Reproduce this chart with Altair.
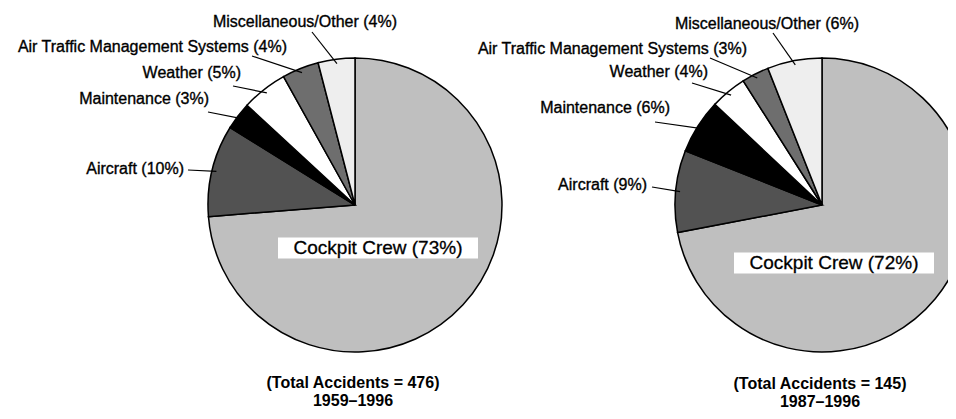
import altair as alt
import numpy as np
import pandas as pd

# ---------------- data ----------------
causes = ["Cockpit Crew", "Aircraft", "Maintenance", "Weather",
          "Air Traffic Management Systems", "Miscellaneous/Other"]
pct_1959_1996 = [73, 10, 3, 5, 4, 4]
pct_1987_1996 = [72, 9, 6, 4, 3, 6]
periods = ["1959–1996", "1987–1996"]
total_accidents = [476, 145]

# ---------------- styles / layout ----------------
fill_colors = ["#bfbfbf", "#525252", "#000000", "#ffffff", "#6e6e6e", "#eeeeee"]
FONT = "Liberation Sans"
W, H = 940, 403          # chart size (page minus 8px margins)
M = 8                    # page margin, layout below is in page pixels
R = 147                  # pie radius
centers = [(355, 205), (822, 205)]
# label right-edge x / centre y for Aircraft, Maintenance, Weather, ATM, Misc
label_pos = [
    [(184, 169), (209, 99), (241, 73), (287, 47), (397, 22)],
    [(647, 185), (670, 108), (708, 72), (747, 49), (859, 24)],
]
# outer end of each leader line (next to its label)
leader_out = [
    [(188, 170), (208, 112), (233, 86), (252, 56), (312, 32)],
    [(652, 187), (655, 122), (692, 83), (710, 58), (773, 33)],
]
cockpit_pos = [(378, 248), (834, 263)]
cockpit_box = (100, 10.5)   # half width, half height
caption_pos = [(353, 383, 401), (820, 384, 402)]

# ---------------- tables ----------------
rows = []
lead_rows = []
for p, (period, vals) in enumerate(zip(periods, [pct_1959_1996, pct_1987_1996])):
    vals = np.array(vals, dtype=float)
    frac = vals / vals.sum()
    start = np.concatenate([[0], np.cumsum(frac)[:-1]])
    mid = (start + frac / 2) * 2 * np.pi
    cx, cy = centers[p]
    for i, c in enumerate(causes):
        rows.append({"period": period, "cause": c, "value": vals[i], "idx": i,
                     "label": f"{c} ({int(vals[i])}%)"})
        if i == 0:
            continue
        lx, ly = label_pos[p][i - 1]
        ox, oy = leader_out[p][i - 1]
        rf = 0.97 * R
        lead_rows.append({
            "period": period,
            "label": f"{c} ({int(vals[i])}%)",
            "tx": lx - M, "ty": ly - M,
            "x1": ox - M, "y1": oy - M,
            "x2": cx + rf * np.sin(mid[i]) - M,
            "y2": cy - rf * np.cos(mid[i]) - M,
        })
pie_df = pd.DataFrame(rows)
lead_df = pd.DataFrame(lead_rows)

ck_rows = []
cap_rows = []
for p, period in enumerate(periods):
    vals = [pct_1959_1996, pct_1987_1996][p]
    x, y = cockpit_pos[p]
    ck_rows.append({"label": f"{causes[0]} ({vals[0]}%)", "x": x - M, "y": y - M,
                    "bx1": x - cockpit_box[0] - M, "bx2": x + cockpit_box[0] - M,
                    "by1": y - cockpit_box[1] - M, "by2": y + cockpit_box[1] - M})
    cx, y1, y2 = caption_pos[p]
    cap_rows.append({"text": f"(Total Accidents = {total_accidents[p]})", "x": cx - M, "y": y1 - M})
    cap_rows.append({"text": period, "x": cx - M, "y": y2 - M})
ck_df = pd.DataFrame(ck_rows)
cap_df = pd.DataFrame(cap_rows)

xs = alt.Scale(domain=[0, W], nice=False, zero=False)
ys = alt.Scale(domain=[0, H], nice=False, zero=False, reverse=True)

def X(f):
    return alt.X(f, type="quantitative", scale=xs, axis=None)

def Y(f):
    return alt.Y(f, type="quantitative", scale=ys, axis=None)

layers = []
for p, period in enumerate(periods):
    cx, cy = centers[p]
    layers.append(
        alt.Chart(pie_df).transform_filter(alt.datum.period == period)
        .mark_arc(outerRadius=R, stroke="black", strokeWidth=1.5)
        .encode(
            theta=alt.Theta("value:Q", stack="normalize"),
            order=alt.Order("idx:Q"),
            color=alt.Color("cause:N", scale=alt.Scale(domain=causes, range=fill_colors), legend=None),
            x=alt.value(cx - M),
            y=alt.value(cy - M),
        )
    )

leaders = alt.Chart(lead_df).mark_rule(color="black", strokeWidth=1.2).encode(
    x=X("x1"), y=Y("y1"), x2="x2:Q", y2="y2:Q")
labels = alt.Chart(lead_df).mark_text(align="right", baseline="middle", font=FONT,
                                      fontSize=16, color="black",
                                      stroke="black", strokeWidth=0.35).encode(
    x=X("tx"), y=Y("ty"), text="label:N")
boxes = alt.Chart(ck_df).mark_rect(color="white").encode(
    x=X("bx1"), x2="bx2:Q", y=Y("by1"), y2="by2:Q")
ck_text = alt.Chart(ck_df).mark_text(align="center", baseline="middle", font=FONT,
                                     fontSize=19, color="black",
                                     stroke="black", strokeWidth=0.3).encode(
    x=X("x"), y=Y("y"), text="label:N")
captions = alt.Chart(cap_df).mark_text(align="center", baseline="middle", font=FONT,
                                       fontSize=16, fontWeight="bold", color="black").encode(
    x=X("x"), y=Y("y"), text="text:N")

chart = alt.layer(*layers, leaders, labels, boxes, ck_text, captions).properties(
    width=W, height=H, padding=0,
    autosize=alt.AutoSizeParams(type="none"),
).configure_view(stroke=None)

chart.save("out.html", embed_options={"renderer": "svg", "actions": False})
